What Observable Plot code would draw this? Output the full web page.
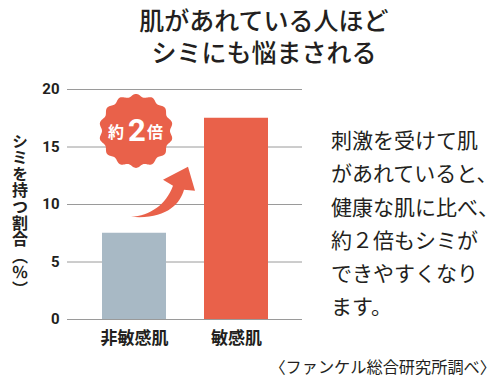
<!DOCTYPE html>
<html>
<head>
<meta charset="utf-8">
<script src="https://cdn.jsdelivr.net/npm/d3@7"></script>
<script src="https://cdn.jsdelivr.net/npm/@observablehq/plot@0.6"></script>
<style>
  html, body { margin: 0; padding: 0; background: #fff; }
  #wrap { position: relative; width: 500px; height: 386px; overflow: hidden; color: #231f20;
          font-family: "Noto Sans CJK JP", "Noto Sans", sans-serif; }
  #chart { position: absolute; left: 0; top: 0; }
  .title { position: absolute; left: 0; width: 528px; top: 5.5px; text-align: center;
           font-size: 25px; line-height: 26px; font-weight: 500; }
  .title div { height: 26px; margin-bottom: 6.5px; }
  .note { position: absolute; left: 331px; top: 123px; font-size: 21px; line-height: 33.3px; font-weight: 400; white-space: nowrap; }
  .caption { position: absolute; right: 4px; top: 356px; font-size: 16.2px; line-height: 20px; white-space: nowrap; }
  .ylabel { position: absolute; left: 10px; top: 133px; width: 20px; writing-mode: vertical-rl;
            font-size: 16px; line-height: 20px; font-weight: 700; letter-spacing: 0.4px; }
</style>
</head>
<body>
<div id="wrap">
  <div id="chart"></div>
  <div class="title" id="title"></div>
  <div class="ylabel" id="ylabel"></div>
  <div class="note" id="note"></div>
  <div class="caption" id="caption"></div>
</div>
<script>
// ---- data ----
const categories = ["非敏感肌", "敏感肌"];
const values = [7.5, 17.5];
const barColors = ["#a8b9c5", "#e9614a"];
const yTicks = [0, 5, 10, 15, 20];
const titleLines = ["肌があれている人ほど", "シミにも悩まされる"];
const yLabel = "シミを持つ割合（％）";
const noteLines = ["刺激を受けて肌", "があれていると、", "健康な肌に比べ、", "約２倍もシミが", "できやすくなり", "ます。"];
const captionText = "〈ファンケル総合研究所調べ〉";
const badgeParts = ["約", "2", "倍"];
const badgeValue = 16.4;

// ---- texts ----
document.getElementById("title").innerHTML = titleLines.map(t => `<div>${t}</div>`).join("");
document.getElementById("ylabel").textContent = yLabel;
document.getElementById("note").innerHTML = noteLines.join("<br>");
document.getElementById("caption").textContent = captionText;

const bars = categories.map((c, i) => ({category: c, value: values[i], color: barColors[i]}));
const accent = barColors[1];

// scalloped badge symbol
const wavy = {
  draw(context, size) {
    const R = Math.sqrt(size / Math.PI);
    const n = 14, A = 1.5, steps = 280;
    for (let k = 0; k <= steps; ++k) {
      const t = (k / steps) * 2 * Math.PI;
      const r = R - A + A * Math.cos(n * t);
      const px = r * Math.sin(t), py = -r * Math.cos(t);
      if (k === 0) context.moveTo(px, py); else context.lineTo(px, py);
    }
    context.closePath();
  }
};

// curved arrow from bar 1 toward bar 2
function curvedArrow(index, scales) {
  const x = scales.x, y = scales.y;
  const bw = x.bandwidth ? x.bandwidth() : 64;
  const tx = x(categories[0]) + bw / 2 - 3;
  const ty = y(values[0]) - 16;
  const P = (dx, dy) => `${tx + dx},${ty + dy}`;
  const d = `M${P(0,0)} C${P(19,-1)} ${P(35,-12)} ${P(42,-31)} L${P(32,-37)} L${P(57,-50)} L${P(64,-26)} L${P(53,-27)} C${P(49,-12)} ${P(34,3)} ${P(0,0)} Z`;
  const path = document.createElementNS("http://www.w3.org/2000/svg", "path");
  path.setAttribute("d", d);
  path.setAttribute("fill", accent);
  return path;
}

const chart = Plot.plot({
  width: 500,
  height: 386,
  marginTop: 89,
  marginBottom: 67,
  marginLeft: 67,
  marginRight: 198,
  style: {fontFamily: "'Noto Sans CJK JP', sans-serif", color: "#231f20", background: "transparent"},
  x: {domain: categories, paddingInner: 0.375, paddingOuter: 0.33, label: null},
  y: {domain: [0, 20], label: null},
  color: {type: "identity"},
  marks: [
    Plot.gridY(yTicks, {stroke: "#9a9a9a", strokeOpacity: 1, strokeWidth: 1}),
    Plot.barY(bars, {x: "category", y: "value", fill: "color"}),
    Plot.axisY(yTicks, {tickSize: 0, tickPadding: 8, fontSize: 15, fontWeight: 700, fontFamily: "Roboto", label: null}),
    Plot.axisX({tickSize: 0, tickPadding: 12, fontSize: 17, fontWeight: 700, label: null}),
    curvedArrow,
    Plot.dot([badgeValue], {x: () => categories[0], y: d => d, r: 37, dx: 1.5, symbol: wavy, fill: accent, stroke: null}),
    Plot.text([badgeValue], {x: () => categories[0], y: d => d, text: () => badgeParts[0], dx: -18.5, dy: 1.5, fontSize: 16, fontWeight: 700, fill: "white"}),
    Plot.text([badgeValue], {x: () => categories[0], y: d => d, text: () => badgeParts[1], dx: 2.5, dy: 0, fontSize: 31, fontWeight: 700, fontFamily: "Roboto", fill: "white"}),
    Plot.text([badgeValue], {x: () => categories[0], y: d => d, text: () => badgeParts[2], dx: 20.5, dy: 1.5, fontSize: 16, fontWeight: 700, fill: "white"})
  ]
});
document.getElementById("chart").appendChild(chart);
</script>
</body>
</html>
